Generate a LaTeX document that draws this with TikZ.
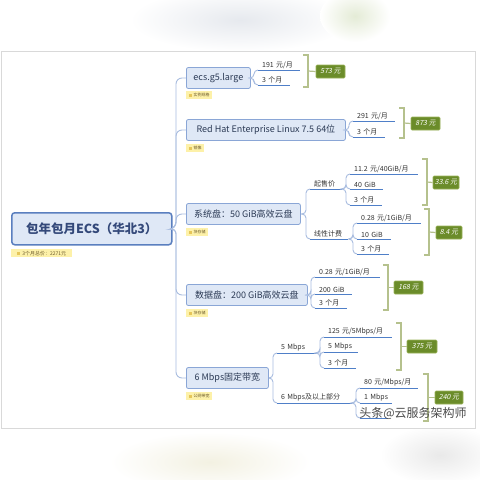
\documentclass[tikz,border=0pt]{standalone}
\usepackage{fontspec}
\setmainfont{Noto Sans CJK SC}
\newfontfamily\slfont[FakeSlant=0.2]{Noto Sans CJK SC}
\definecolor{bgc}{HTML}{FFFFFF}
\definecolor{panelc}{HTML}{D9D9D9}
\definecolor{linec}{HTML}{A9BDE0}
\definecolor{ulc}{HTML}{4F7FC8}
\definecolor{topicfill}{HTML}{DFE8F6}
\definecolor{topicdraw}{HTML}{8AA6D6}
\definecolor{topictext}{HTML}{2B3A55}
\definecolor{rootdraw}{HTML}{5A7FBF}
\definecolor{roottext}{HTML}{34497A}
\definecolor{notefill}{HTML}{FDF1A9}
\definecolor{notetext}{HTML}{6E5C2E}
\definecolor{notesqc}{HTML}{E6C65A}
\definecolor{brkc}{HTML}{B5C18D}
\definecolor{greenfill}{HTML}{6B8C2A}
\definecolor{greendraw}{HTML}{9BB35A}
\definecolor{leaftext}{HTML}{333333}
\definecolor{wmc}{HTML}{4A4A4A}
\definecolor{blobA}{HTML}{E6E9EE}
\definecolor{blobB}{HTML}{E4EBD6}
\definecolor{blobC}{HTML}{F3F1E2}
\definecolor{blobD}{HTML}{E9E9E9}
\newcommand\nsq{\textcolor{notesqc}{\rule{3pt}{3pt}}\hspace{2pt}}
\tikzset{
  rootbox/.style={draw=rootdraw, line width=1.5pt, fill=topicfill, rounded corners=3pt,
    minimum width=160pt, minimum height=32pt, anchor=north west, text=roottext,
    font=\fontsize{12.5}{14}\selectfont\bfseries, inner sep=0pt},
  topic/.style={draw=topicdraw, line width=0.8pt, fill=topicfill, rounded corners=2pt,
    minimum width=#1, minimum height=21pt, anchor=west, text=topictext,
    font=\fontsize{9}{11}\selectfont, inner sep=0pt},
  notebox/.style={fill=notefill, anchor=north west, text=notetext, inner xsep=2pt, inner ysep=0pt,
    minimum height=8pt, font=\fontsize{4}{5}\selectfont},
  leaf/.style={anchor=south west, text width=#1, align=left, inner xsep=4pt, inner ysep=1.5pt,
    text=leaftext, font=\fontsize{7}{8}\selectfont},
  uline/.style={draw=ulc, line width=0.9pt},
  lvl/.style={draw=linec, line width=0.9pt, rounded corners=4pt},
  brk/.style={draw=brkc, line width=1.2pt},
  greenbox/.style={fill=greenfill, draw=greendraw, line width=0.6pt, rounded corners=1pt,
    minimum width=#1, minimum height=13pt, inner sep=0pt, text=white,
    font=\fontsize{7}{8}\selectfont\slfont},
}
\begin{document}
\begin{tikzpicture}[x=1pt,y=-1pt]
\useasboundingbox (0,0) rectangle (480,480);
% background
\fill[bgc] (0,0) rectangle (480,480);
\shade[inner color=blobA, outer color=bgc] (240,20) ellipse (110 and 32);
\shade[inner color=blobB, outer color=bgc] (355,16) ellipse (35 and 26);
\shade[inner color=blobC, outer color=bgc] (210,462) ellipse (100 and 30);
\shade[inner color=blobD, outer color=bgc] (440,455) ellipse (60 and 30);
\draw[panelc, fill=white, line width=0.6pt] (1,51) rectangle (475,428);

% root
\node[rootbox] (root) at (11,212) {包年包月ECS（华北3）};
\node[notebox, minimum width=61pt, font=\fontsize{5}{6}\selectfont] (rootnote) at (11,249) {\nsq 3个月总价：2271元};

% level 1 topics
\node[topic=64pt] (ecs) at (186,78) {ecs.g5.large};
\node[topic=159pt] (rhel) at (186,130) {Red Hat Enterprise Linux 7.5 64位};
\node[topic=114pt] (sys) at (186,214) {系统盘：50 GiB高效云盘};
\node[topic=121pt] (data) at (186,295) {数据盘：200 GiB高效云盘};
\node[topic=82pt] (bw) at (186,378) {6 Mbps固定带宽};

\node[notebox, minimum width=26pt] (ecsn) at (186,91) {\nsq 实例规格};
\node[notebox, minimum width=18pt] (rheln) at (186,144) {\nsq 镜像};
\node[notebox, minimum width=22pt] (sysn) at (186,228) {\nsq 块存储};
\node[notebox, minimum width=22pt] (datan) at (186,309) {\nsq 块存储};
\node[notebox, minimum width=26pt] (bwn) at (186,392) {\nsq 公网带宽};

% spine
\coordinate (sp) at (176,228);
\foreach \t in {ecs,rhel,sys,data,bw} {\draw[lvl, rounded corners=6pt] (root.east) -- (sp) |- (\t.west);}

% ECS group
\node[leaf=34pt] (e1) at (258,70) {191 元/月};
\node[leaf=24pt] (e2) at (258,85) {3 个月};
\foreach \n in {e1,e2} {\draw[uline] (\n.south west) -- (\n.south east);
  \draw[lvl] (ecs.east) -- (254,78) |- (\n.south west);}
\draw[brk] (303,55) -- (308,55) -- (308,87) -- (303,87);
\coordinate (eb) at (308,71);
\node[greenbox=29pt] (eg) at (330.5,71.5) {573 元};
\draw[brk] (eb) -- (eg.west);

% RHEL group
\node[leaf=34pt] (r1) at (353,121) {291 元/月};
\node[leaf=24pt] (r2) at (353,137) {3 个月};
\foreach \n in {r1,r2} {\draw[uline] (\n.south west) -- (\n.south east);
  \draw[lvl] (rhel.east) -- (349,130) |- (\n.south west);}
\draw[brk] (399,108) -- (404,108) -- (404,138) -- (399,138);
\coordinate (rb) at (404,123);
\node[greenbox=29pt] (rg) at (425.5,123.5) {873 元};
\draw[brk] (rb) -- (rg.west);

% system disk group
\node[leaf=24pt] (s1) at (310,189) {起售价};
\node[leaf=30pt] (s2) at (310,239) {线性计费};
\foreach \n in {s1,s2} {\draw[uline] (\n.south west) -- (\n.south east);
  \draw[lvl] (sys.east) -- (306,214) |- (\n.south west);}
\node[leaf=60pt] (s11) at (350,174) {11.2 元/40GiB/月};
\node[leaf=25pt] (s12) at (350,189) {40 GiB};
\node[leaf=24pt] (s13) at (350,205) {3 个月};
\foreach \n in {s11,s12,s13} {\draw[uline] (\n.south west) -- (\n.south east);
  \draw[lvl] (s1.south east) -- (346,189) |- (\n.south west);}
\draw[brk] (422,159) -- (427,159) -- (427,205) -- (422,205);
\coordinate (s1b) at (427,182);
\node[greenbox=26pt] (s1g) at (446,182.5) {33.6 元};
\draw[brk] (s1b) -- (s1g.west);
\node[leaf=56pt] (s21) at (357,223) {0.28 元/1GiB/月};
\node[leaf=26pt] (s22) at (357,239) {10 GiB};
\node[leaf=24pt] (s23) at (357,254) {3 个月};
\foreach \n in {s21,s22,s23} {\draw[uline] (\n.south west) -- (\n.south east);
  \draw[lvl] (s2.south east) -- (353,239) |- (\n.south west);}
\draw[brk] (424,209) -- (429,209) -- (429,255) -- (424,255);
\coordinate (s2b) at (429,232);
\node[greenbox=26pt] (s2g) at (449,232.5) {8.4 元};
\draw[brk] (s2b) -- (s2g.west);

% data disk group
\node[leaf=57pt] (d1) at (315,277) {0.28 元/1GiB/月};
\node[leaf=29pt] (d2) at (315,294) {200 GiB};
\node[leaf=24pt] (d3) at (315,308) {3 个月};
\foreach \n in {d1,d2,d3} {\draw[uline] (\n.south west) -- (\n.south east);
  \draw[lvl] (data.east) -- (311,295) |- (\n.south west);}
\draw[brk] (383,265) -- (388,265) -- (388,310) -- (383,310);
\coordinate (db) at (388,287.5);
\node[greenbox=29pt] (dg) at (408.5,287.5) {168 元};
\draw[brk] (db) -- (dg.west);

% bandwidth group
\node[leaf=33pt] (b1) at (277,353) {5 Mbps};
\node[leaf=67pt] (b2) at (277,403) {6 Mbps及以上部分};
\foreach \n in {b1,b2} {\draw[uline] (\n.south west) -- (\n.south east);
  \draw[lvl] (bw.east) -- (273,378) |- (\n.south west);}
\node[leaf=60pt] (b11) at (324,337) {125 元/5Mbps/月};
\node[leaf=26pt] (b12) at (324,352) {5 Mbps};
\node[leaf=24pt] (b13) at (324,368) {3 个月};
\foreach \n in {b11,b12,b13} {\draw[uline] (\n.south west) -- (\n.south east);
  \draw[lvl] (b1.south east) -- (320,353) |- (\n.south west);}
\draw[brk] (396,323) -- (401,323) -- (401,370) -- (396,370);
\coordinate (b1b) at (401,346.5);
\node[greenbox=30pt] (b1g) at (422,346.5) {375 元};
\draw[brk] (b1b) -- (b1g.west);
\node[leaf=50pt] (b21) at (360,388) {80 元/Mbps/月};
\node[leaf=24pt] (b22) at (360,403) {1 Mbps};
\coordinate (b23a) at (360,418);
\coordinate (b23b) at (388,418);
\foreach \n in {b21,b22} {\draw[uline] (\n.south west) -- (\n.south east);
  \draw[lvl] (b2.south east) -- (356,403) |- (\n.south west);}
\draw[uline] (b23a) -- (b23b);
\draw[lvl] (b2.south east) -- (356,403) |- (b23a);
\draw[brk] (423,374) -- (428,374) -- (428,421) -- (423,421);
\coordinate (b2b) at (428,397.5);
\node[greenbox=28pt] (b2g) at (449,397.5) {240 元};
\draw[brk] (b2b) -- (b2g.west);

% watermark
\node[text=wmc, font=\fontsize{12}{13}\selectfont, inner sep=0pt] (wm) at (413,413) {头条@云服务架构师};
\end{tikzpicture}
\end{document}
